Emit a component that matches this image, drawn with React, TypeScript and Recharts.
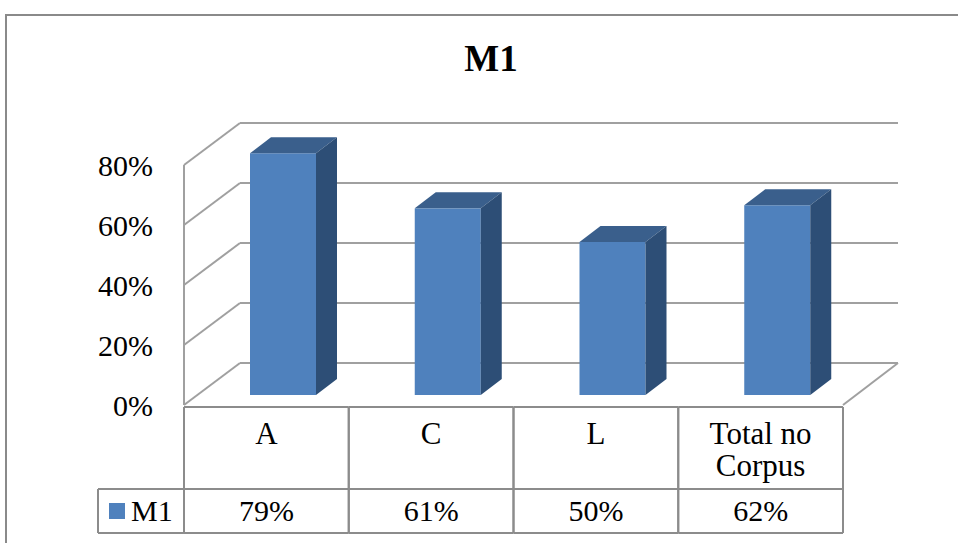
import { Bar, CartesianGrid, ComposedChart, XAxis, YAxis } from "recharts";

const categories = ["A", "C", "L", "Total no Corpus"];
const m1Values = [79, 61, 50, 62];
const yTicks = [0, 20, 40, 60, 80];
const seriesName = "M1";

const data = categories.map((c, i) => ({ category: c, m1: m1Values[i] }));

const FONT = "'Liberation Serif', 'Times New Roman', serif";
const LINE = "#8c8c8c";
const GRID = "#a0a0a0";
const FRONT = "#4f81bd";
const TOP = "#3a5f8c";
const SIDE = "#2d4e76";

// wall depth and bar depth (pseudo 3D)
const WALL_DX = 56;
const WALL_DY = 42;
const BAR_DX = 21;
const BAR_DY = 16;
const BAR_SHIFT_X = 17;
const BAR_SHIFT_Y = 10;

const CELL_HALF = 82.4;
const FS = 30;
const CAT_FS = 31;

function gridLine(props: any) {
  const { x1, x2, y1, index, y, height } = props;
  const bottom = Math.abs(y1 - (y + height)) < 1;
  const by = y1 - WALL_DY;
  return (
    <g key={`g-${index}`}>
      <line x1={x1} y1={y1} x2={x1 + WALL_DX} y2={by} stroke={GRID} strokeWidth={2} />
      <line x1={x1 + WALL_DX} y1={by} x2={x2 + WALL_DX - 1} y2={by} stroke={GRID} strokeWidth={2} />
      {bottom && (
        <line x1={x2} y1={y1} x2={x2 + WALL_DX - 1} y2={by} stroke={GRID} strokeWidth={2} />
      )}
    </g>
  );
}

function BoxShape(props: any) {
  const { x, y, width, height } = props;
  const fx = x + BAR_SHIFT_X;
  const by = y + height - BAR_SHIFT_Y;
  const h = height * 1.02;
  const ty = by - h;
  const w = width;
  return (
    <g>
      <rect x={fx} y={ty} width={w} height={h} fill={FRONT} />
      <polygon
        points={`${fx},${ty} ${fx + BAR_DX},${ty - BAR_DY} ${fx + w + BAR_DX},${ty - BAR_DY} ${fx + w},${ty}`}
        fill={TOP}
      />
      <polygon
        points={`${fx + w},${ty} ${fx + w + BAR_DX},${ty - BAR_DY} ${fx + w + BAR_DX},${by - BAR_DY} ${fx + w},${by}`}
        fill={SIDE}
      />
    </g>
  );
}

function wrap(text: string, maxW: number) {
  const words = text.split(" ");
  const lines: string[] = [];
  let cur = "";
  for (const w of words) {
    const next = cur ? `${cur} ${w}` : w;
    if (next.length * CAT_FS * 0.5 > maxW && cur) {
      lines.push(cur);
      cur = w;
    } else cur = next;
  }
  if (cur) lines.push(cur);
  return lines;
}

function TableTick(props: any) {
  const { x, y, payload, index } = props;
  const top = y + 2;
  const mid = y + 84;
  const bot = y + 128;
  const left = x - CELL_HALF;
  const right = x + CELL_HALF;
  const lines = wrap(String(payload.value), 150);
  const value = m1Values[index];
  return (
    <g>
      <line x1={left} y1={top} x2={right} y2={top} stroke={LINE} strokeWidth={2} />
      <line x1={left} y1={mid} x2={right} y2={mid} stroke={LINE} strokeWidth={2} />
      <line x1={left} y1={bot} x2={right} y2={bot} stroke={LINE} strokeWidth={2} />
      <line x1={left} y1={top} x2={left} y2={bot} stroke={LINE} strokeWidth={2} />
      <line x1={right} y1={top} x2={right} y2={bot} stroke={LINE} strokeWidth={2} />
      {lines.map((l, i) => (
        <text
          key={i}
          x={x}
          y={top + 37 + i * 32}
          textAnchor="middle"
          fontFamily={FONT}
          fontSize={CAT_FS}
          fill="#000"
        >
          {l}
        </text>
      ))}
      <text x={x} y={bot - 12} textAnchor="middle" fontFamily={FONT} fontSize={FS} fill="#000">
        {`${value}%`}
      </text>
      {index === 0 && (
        <g>
          <line x1={98} y1={mid} x2={left} y2={mid} stroke={LINE} strokeWidth={2} />
          <line x1={98} y1={bot} x2={left} y2={bot} stroke={LINE} strokeWidth={2} />
          <line x1={98} y1={mid} x2={98} y2={bot} stroke={LINE} strokeWidth={2} />
          <rect x={109} y={mid + 14} width={16} height={16} fill={FRONT} />
          <text x={131} y={bot - 12} fontFamily={FONT} fontSize={FS} fill="#000">
            {seriesName}
          </text>
        </g>
      )}
    </g>
  );
}

export default function App() {
  return (
    <div
      style={{
        position: "absolute",
        left: 0,
        top: 0,
        width: 958,
        height: 543,
        overflow: "hidden",
        background: "#fff",
      }}
    >
      <div
        style={{
          position: "absolute",
          left: 5,
          top: 14,
          width: 1000,
          height: 600,
          border: "2px solid #8a8a8a",
        }}
      />
      <div
        style={{
          position: "absolute",
          left: 391,
          top: 41,
          width: 200,
          textAlign: "center",
          fontFamily: FONT,
          fontWeight: "bold",
          fontSize: 37,
          lineHeight: "36px",
        }}
      >
        M1
      </div>
      <div style={{ position: "absolute", left: 0, top: 0 }}>
        <ComposedChart
          width={958}
          height={543}
          data={data}
          margin={{ top: 165, right: 115, bottom: 0, left: 0 }}
        >
          <CartesianGrid vertical={false} horizontal={gridLine} />
          <XAxis
            dataKey="category"
            height={138}
            axisLine={false}
            tickLine={false}
            tickSize={0}
            tickMargin={0}
            interval={0}
            tick={<TableTick />}
          />
          <YAxis
            width={184}
            domain={[0, 80]}
            ticks={yTicks}
            tickFormatter={(v) => `${v}%`}
            axisLine={{ stroke: GRID, strokeWidth: 2 }}
            tickLine={false}
            tickSize={0}
            tickMargin={31}
            tick={{ fontFamily: FONT, fontSize: FS, fill: "#000" }}
          />
          <Bar dataKey="m1" name={seriesName} barSize={66} shape={<BoxShape />} isAnimationActive={false} />
        </ComposedChart>
      </div>
    </div>
  );
}
